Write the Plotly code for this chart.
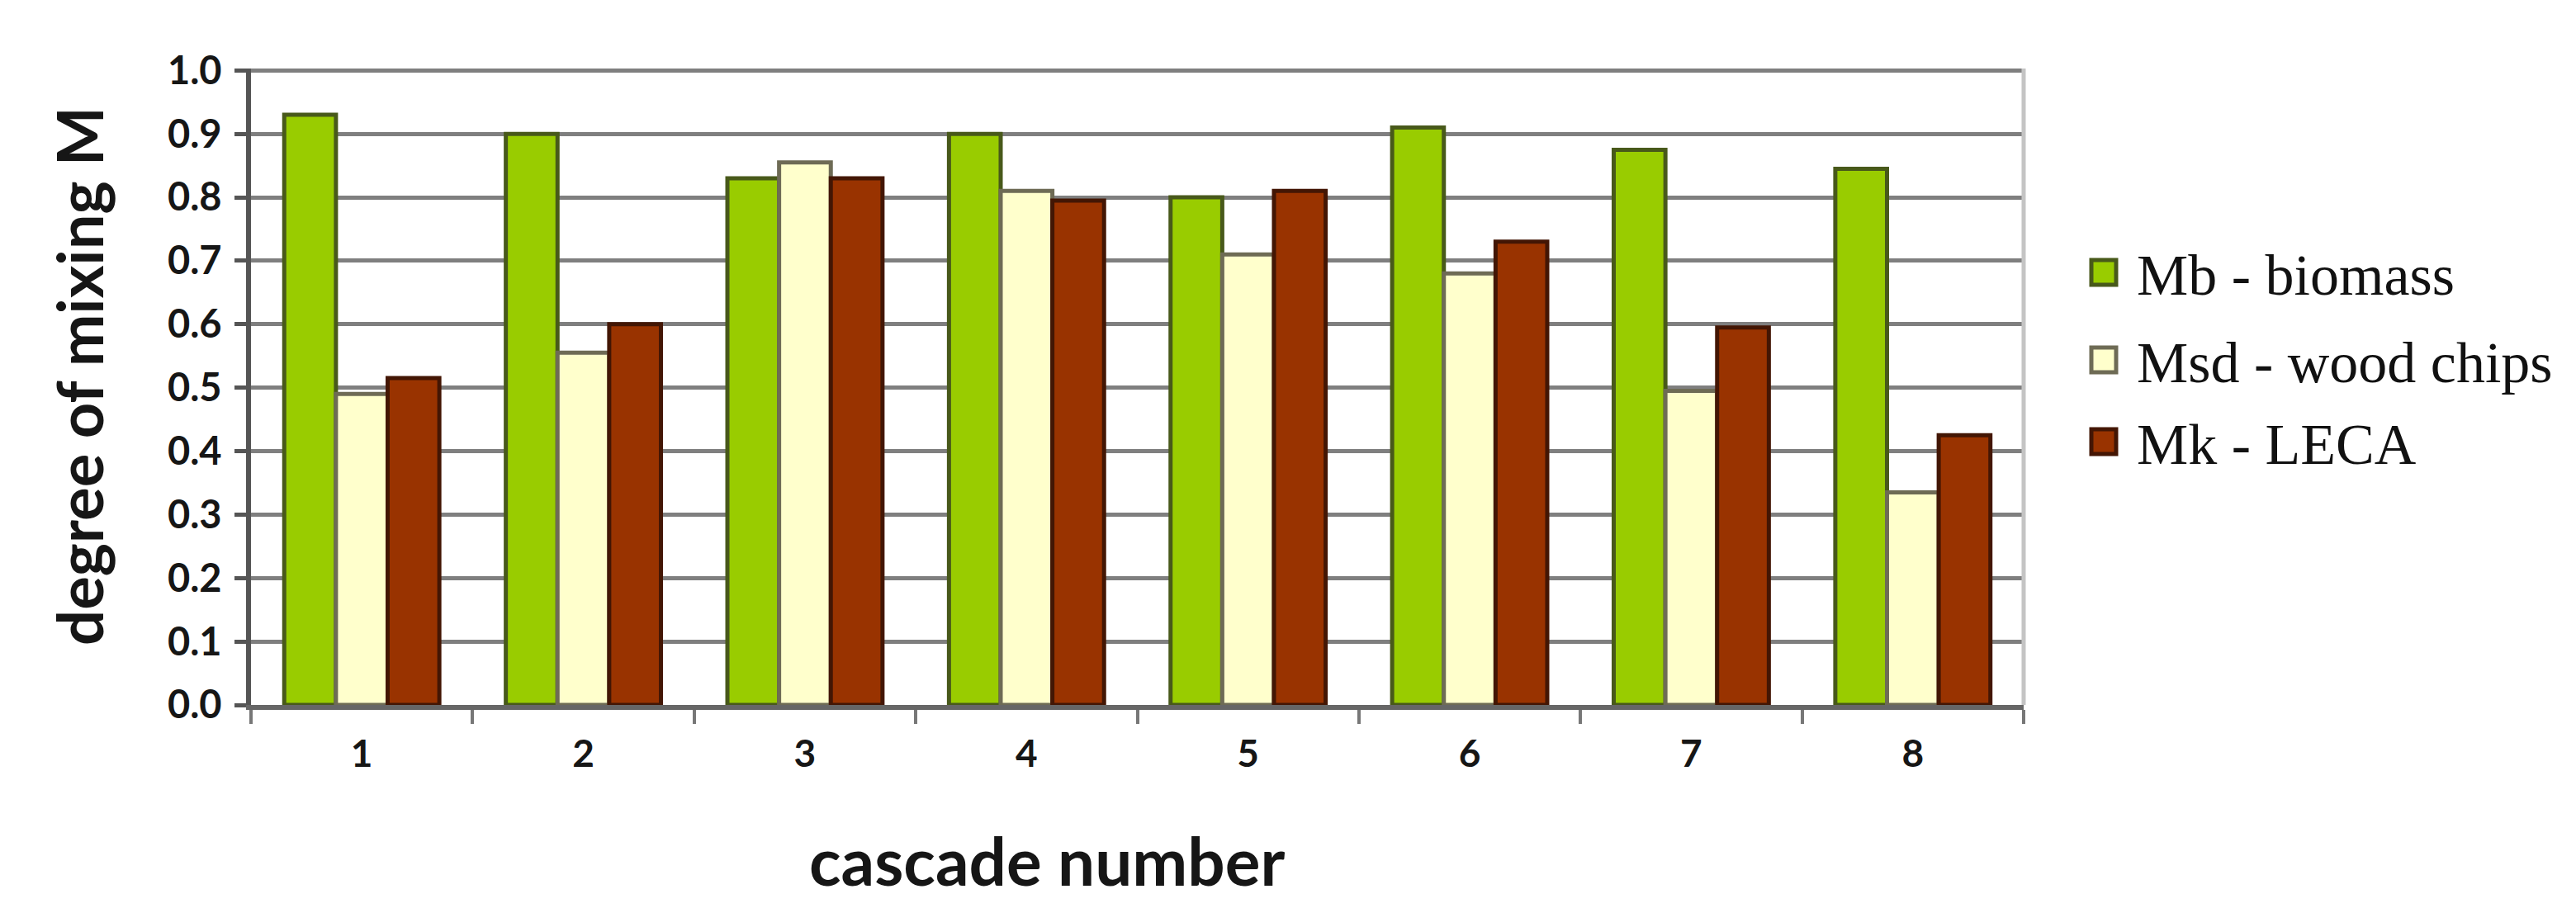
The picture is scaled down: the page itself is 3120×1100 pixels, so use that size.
import plotly.graph_objects as go

# ---- data ----
categories = ["1", "2", "3", "4", "5", "6", "7", "8"]
series_names = ["Mb - biomass", "Msd - wood chips", "Mk - LECA"]
mb_biomass = [0.93, 0.90, 0.83, 0.90, 0.80, 0.91, 0.875, 0.845]
msd_wood_chips = [0.49, 0.555, 0.855, 0.81, 0.71, 0.68, 0.495, 0.335]
mk_leca = [0.515, 0.60, 0.83, 0.795, 0.81, 0.73, 0.595, 0.425]
y_ticks = [0.0, 0.1, 0.2, 0.3, 0.4, 0.5, 0.6, 0.7, 0.8, 0.9, 1.0]
x_title = "cascade number"
y_title = "degree of mixing M"

# ---- styling ----
W, H = 3120, 1100
L, R, T, B = 296, 2443, 75, 846
fills = ["#99CC00", "#FFFFCC", "#993300"]
edges = ["#48591a", "#6e6b55", "#431604"]


def px_x(x):
    return (x - L) / (R - L)


def px_y(y):
    return (B - y) / (B - T)


fig = go.Figure()
for name, vals, fc, ec in zip(series_names, [mb_biomass, msd_wood_chips, mk_leca], fills, edges):
    fig.add_trace(go.Bar(
        x=categories, y=vals, name=name, showlegend=False,
        marker=dict(color=fc, line=dict(color=ec, width=5)),
    ))

fig.update_layout(
    width=W, height=H,
    margin=dict(l=L, r=W - R, t=T, b=H - B, autoexpand=False),
    paper_bgcolor="white", plot_bgcolor="white",
    barmode="group", bargap=0.30, bargroupgap=0.0,
    font=dict(family="Lato", color="#1a1a1a"),
)
fig.update_yaxes(
    range=[0, 1.003], tickvals=y_ticks, tickformat=".1f",
    showgrid=True, gridcolor="#7f7f7f", gridwidth=5,
    showline=True, linecolor="#555555", linewidth=6,
    ticks="outside", ticklen=14, tickwidth=5, tickcolor="#555",
    tickfont=dict(family="Lato", size=47, weight="bold", color="#161616"),
    ticklabelstandoff=6, zeroline=False,
)
fig.update_xaxes(
    type="category", showgrid=False,
    showline=True, linecolor="#666666", linewidth=6,
    ticks="outside", tickson="boundaries", ticklen=17, tickwidth=4, tickcolor="#777",
    tickfont=dict(family="Lato", size=46, weight="bold", color="#161616"),
    ticklabelstandoff=14, zeroline=False,
)

shapes = [
    dict(type="line", xref="x domain", yref="y domain", x0=1, x1=1, y0=0, y1=1,
         line=dict(color="#c4c4c4", width=5)),
]
annotations = [
    dict(text=x_title, xref="paper", yref="paper", x=px_x(1260), y=px_y(1034),
         xanchor="center", yanchor="middle", showarrow=False,
         font=dict(family="Lato", size=80, weight="bold", color="#161616")),
    dict(text=y_title, xref="paper", yref="paper", x=px_x(88), y=px_y(448),
         xanchor="center", yanchor="middle", showarrow=False, textangle=-90,
         font=dict(family="Lato", size=76, weight="bold", color="#161616")),
]

legend_y = [322, 428, 527]
for name, fc, ec, yc in zip(series_names, fills, edges, legend_y):
    shapes.append(dict(type="rect", xref="paper", yref="paper",
                       x0=px_x(2525), x1=px_x(2555), y0=px_y(yc + 15), y1=px_y(yc - 15),
                       fillcolor=fc, line=dict(color=ec, width=5)))
    annotations.append(dict(text=name, xref="paper", yref="paper",
                            x=px_x(2578), y=px_y(yc + 3), xanchor="left", yanchor="middle",
                            showarrow=False,
                            font=dict(family="Liberation Serif", size=70, color="#111")))

fig.update_layout(shapes=shapes, annotations=annotations)
fig.write_html("out.html")
